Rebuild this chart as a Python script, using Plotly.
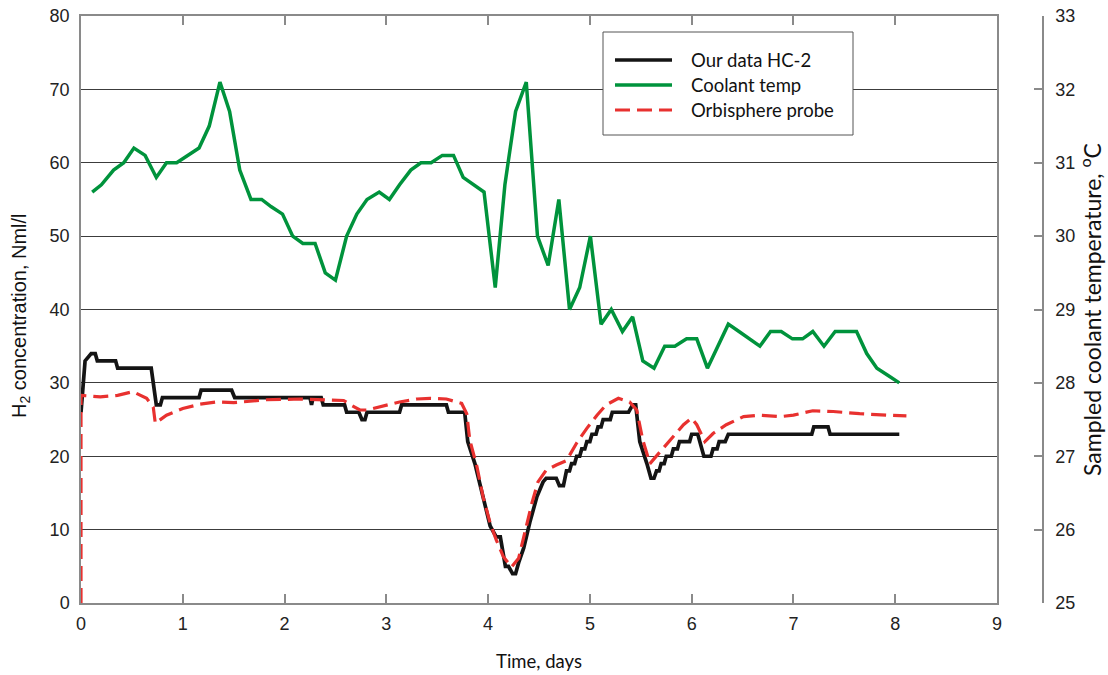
import plotly.graph_objects as go

# --- HC-2 sensor readings (Nml/l) ---
hc2_days = [0, 0.02, 0.04, 0.1, 0.14, 0.16, 0.34, 0.36, 0.69, 0.74, 0.78, 0.8,
            1.16, 1.18, 1.48, 1.51, 2.25, 2.265, 2.28, 2.36, 2.38, 2.59, 2.61,
            2.73, 2.76, 2.79, 2.81, 3.13, 3.15, 3.59, 3.61, 3.77, 3.8, 3.87,
            3.94, 4.02, 4.08, 4.12, 4.17, 4.2, 4.24, 4.27, 4.3, 4.35, 4.41,
            4.48, 4.54, 4.57, 4.67, 4.7, 4.74, 4.77, 4.8, 4.82, 4.85, 4.87,
            4.9, 4.92, 4.95, 4.97, 5.0, 5.02, 5.06, 5.08, 5.11, 5.13, 5.2,
            5.22, 5.38, 5.42, 5.45, 5.49, 5.56, 5.6, 5.63, 5.655, 5.68, 5.7,
            5.73, 5.75, 5.8, 5.82, 5.86, 5.88, 5.98, 6.0, 6.06, 6.12, 6.19,
            6.21, 6.25, 6.27, 6.33, 6.36, 7.18, 7.2, 7.34, 7.36, 8.04]
hc2_conc = [26, 30, 33, 34, 34, 33, 33, 32, 32, 27, 27, 28,
            28, 29, 29, 28, 28, 27, 28, 28, 27, 27, 26,
            26, 25, 25, 26, 26, 27, 27, 26, 26, 22, 19,
            15, 10.5, 9, 9, 5, 5, 4, 4, 5.5, 7.5, 11,
            14.5, 16.5, 17, 17, 16, 16, 18, 18, 19, 19, 20,
            20, 21, 21, 22, 22, 23, 23, 24, 24, 25, 25,
            26, 26, 27, 27, 22, 19, 17, 17, 18, 18, 19,
            19, 20, 20, 21, 21, 22, 22, 23, 23, 20, 20,
            21, 21, 22, 22, 23, 23, 24, 24, 23, 23]

# --- Sampled coolant temperature (deg C) ---
temp_days = [0.11, 0.2, 0.32, 0.42, 0.52, 0.63, 0.74, 0.84, 0.94, 1.05, 1.16,
             1.26, 1.365, 1.46, 1.56, 1.67, 1.775, 1.87, 1.98, 2.08, 2.18,
             2.3, 2.4, 2.5, 2.61, 2.71, 2.81, 2.93, 3.03, 3.13, 3.24, 3.34,
             3.44, 3.55, 3.66, 3.755, 3.86, 3.96, 4.07, 4.165, 4.27, 4.375,
             4.485, 4.59, 4.695, 4.8, 4.9, 5.005, 5.11, 5.21, 5.32, 5.42,
             5.52, 5.63, 5.735, 5.835, 5.95, 6.05, 6.155, 6.26, 6.36, 6.465,
             6.565, 6.67, 6.775, 6.88, 6.99, 7.09, 7.19, 7.3, 7.41, 7.51,
             7.62, 7.72, 7.82, 7.93, 8.04]
temp_c = [30.6, 30.7, 30.9, 31.0, 31.2, 31.1, 30.8, 31.0, 31.0, 31.1, 31.2,
          31.5, 32.1, 31.7, 30.9, 30.5, 30.5, 30.4, 30.3, 30.0, 29.9,
          29.9, 29.5, 29.4, 30.0, 30.3, 30.5, 30.6, 30.5, 30.7, 30.9, 31.0,
          31.0, 31.1, 31.1, 30.8, 30.7, 30.6, 29.3, 30.7, 31.7, 32.1,
          30.0, 29.6, 30.5, 29.0, 29.3, 30.0, 28.8, 29.0, 28.7, 28.9,
          28.3, 28.2, 28.5, 28.5, 28.6, 28.6, 28.2, 28.5, 28.8, 28.7,
          28.6, 28.5, 28.7, 28.7, 28.6, 28.6, 28.7, 28.5, 28.7, 28.7,
          28.7, 28.4, 28.2, 28.1, 28.0]

# --- Orbisphere probe readings (Nml/l) ---
orb_days = [0, 0, 0.19, 0.36, 0.51, 0.645, 0.71, 0.73, 0.84, 1.0, 1.17, 1.33,
            1.5, 1.82, 2.15, 2.48, 2.58, 2.65, 2.74, 2.81, 2.87, 3.0, 3.13,
            3.3, 3.43, 3.59, 3.74, 3.79, 3.82, 3.89, 3.95, 4.02, 4.08, 4.15,
            4.23, 4.3, 4.36, 4.43, 4.49, 4.57, 4.67, 4.77, 4.87, 4.97, 5.07,
            5.16, 5.28, 5.39, 5.46, 5.52, 5.59, 5.69, 5.8, 5.92, 6.0, 6.05,
            6.13, 6.21, 6.34, 6.51, 6.67, 6.87, 7.0, 7.19, 7.39, 7.65, 7.92,
            8.11]
orb_conc = [0, 28.3, 28.1, 28.3, 28.8, 27.9, 26.7, 24.5, 25.6, 26.5, 27.1, 27.4,
            27.3, 27.7, 27.8, 27.7, 27.6, 27.0, 26.3, 26.3, 26.5, 27.0, 27.4,
            27.8, 27.9, 27.8, 27.2, 25.8, 22.2, 18.6, 14.5, 10.9, 8.6, 6.3,
            4.9, 6.1, 9.5, 13.6, 16.5, 18.1, 18.8, 19.4, 21.8, 23.8, 25.6,
            27.0, 27.9, 27.4, 26.3, 22.2, 19.0, 20.6, 22.4, 24.3, 25.2, 24.3,
            22.0, 23.1, 24.3, 25.4, 25.6, 25.4, 25.6, 26.2, 26.1, 25.8, 25.6,
            25.5]

x_ticks = [0, 1, 2, 3, 4, 5, 6, 7, 8, 9]
left_ticks = [0, 10, 20, 30, 40, 50, 60, 70, 80]
right_ticks = [25, 26, 27, 28, 29, 30, 31, 32, 33]

series_names = ["Our data HC-2", "Coolant temp", "Orbisphere probe"]
series_colors = ["#141414", "#00933c", "#e8312f"]
series_widths = [3.7, 3.5, 3.2]
series_dashes = ["solid", "solid", "15px,7px"]

# page geometry (px)
W, H = 1108, 675
PLOT_L, PLOT_R, PLOT_T, PLOT_B = 81, 997, 16, 603
AXIS2_X = 1043
PW = AXIS2_X - PLOT_L
PH = PLOT_B - PLOT_T


def px_x(px):
    return (px - PLOT_L) / PW


def px_y(py):
    return 1 - (py - PLOT_T) / PH


TICK_FONT = dict(family="Liberation Sans, Arial, sans-serif", size=18, color="#222")
SANS = "Lato, Open Sans, sans-serif"
AXIS_GREY = "#8a8a8a"

fig = go.Figure()
fig.add_trace(go.Scatter(x=hc2_days, y=hc2_conc, mode="lines", name=series_names[0],
                         line=dict(color=series_colors[0], width=series_widths[0],
                                   dash=series_dashes[0])))
fig.add_trace(go.Scatter(x=temp_days, y=temp_c, mode="lines", name=series_names[1],
                         yaxis="y2",
                         line=dict(color=series_colors[1], width=series_widths[1],
                                   dash=series_dashes[1])))
fig.add_trace(go.Scatter(x=orb_days, y=orb_conc, mode="lines", name=series_names[2],
                         line=dict(color=series_colors[2], width=series_widths[2],
                                   dash=series_dashes[2])))

# legend: framed box with line samples and labels
fig.add_shape(type="rect", xref="paper", yref="paper",
              x0=px_x(603), x1=px_x(853), y0=px_y(135), y1=px_y(32),
              fillcolor="white", line=dict(color="#555", width=1), layer="above")
for i, (name, col, wd, ds) in enumerate(zip(series_names, series_colors,
                                            series_widths, series_dashes)):
    row_y = px_y(60 + 25 * i)
    fig.add_shape(type="line", xref="paper", yref="paper",
                  x0=px_x(615), x1=px_x(672), y0=row_y, y1=row_y,
                  line=dict(color=col, width=wd, dash=ds), layer="above")
    fig.add_annotation(x=px_x(689), y=row_y, xref="paper", yref="paper",
                       text=name, showarrow=False, xanchor="left", yanchor="middle",
                       font=dict(family=SANS, size=18.5, color="#111"))

# left axis title
fig.add_annotation(x=px_x(20), y=px_y(316), xref="paper", yref="paper",
                   text="H<sub>2</sub> concentration, Nml/l", textangle=-90,
                   showarrow=False, xanchor="center", yanchor="middle",
                   font=dict(family="Liberation Sans, Arial, sans-serif",
                             size=20, color="#111"))

fig.update_layout(
    width=W, height=H,
    margin=dict(l=PLOT_L, r=W - AXIS2_X, t=PLOT_T, b=H - PLOT_B, autoexpand=False),
    paper_bgcolor="white", plot_bgcolor="white",
    showlegend=False,
    xaxis=dict(domain=[0, (PLOT_R - PLOT_L) / PW], range=[0, 9], tickvals=x_ticks,
               showgrid=False, zeroline=False, automargin=False,
               showline=True, linecolor=AXIS_GREY, linewidth=1.5, mirror="ticks",
               ticks="inside", ticklen=9, tickcolor=AXIS_GREY, tickwidth=1.5,
               tickfont=TICK_FONT, ticklabelstandoff=4,
               title=dict(text="Time, days", font=dict(family=SANS, size=18.5, color="#111"),
                          standoff=22)),
    yaxis=dict(range=[0, 80], tickvals=left_ticks, showgrid=True,
               gridcolor="#3c3c3c", gridwidth=1, zeroline=False, automargin=False,
               showline=True, linecolor=AXIS_GREY, linewidth=1.5, mirror=True,
               ticks="", tickfont=TICK_FONT, ticklabelstandoff=6),
    yaxis2=dict(range=[25, 33], tickvals=right_ticks, overlaying="y",
                side="right", anchor="free", position=1.0,
                showgrid=False, zeroline=False, automargin=False,
                showline=True, linecolor=AXIS_GREY, linewidth=1.5,
                ticks="inside", ticklen=8, tickcolor=AXIS_GREY, tickwidth=1.5,
                tickfont=TICK_FONT, ticklabelstandoff=8,
                title=dict(text="Sampled coolant temperature, <sup>o</sup>C",
                           font=dict(family=SANS, size=23, color="#111"),
                           standoff=8)),
)

fig.write_html("out.html")
